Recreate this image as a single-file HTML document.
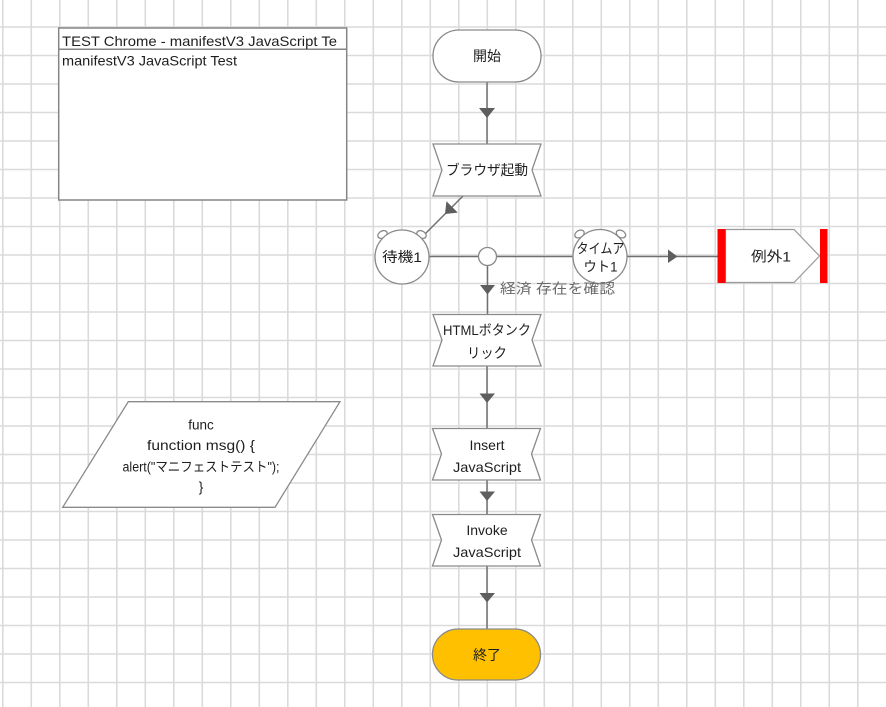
<!DOCTYPE html>
<html><head><meta charset="utf-8"><style>
html,body{margin:0;padding:0;background:#fff;}
svg{display:block;}
text{font-family:"Liberation Sans","Noto Sans CJK JP",sans-serif;font-size:14px;fill:#1e1e1e;}
.c{text-anchor:middle;dominant-baseline:central;}
.n{fill:#fff;stroke:#8a8a8a;stroke-width:1.3;}
.ln{stroke:#707070;stroke-width:1.5;fill:none;}
.ah{fill:#5e5e5e;}
</style></head><body>
<svg width="886" height="707" viewBox="0 0 886 707" xmlns="http://www.w3.org/2000/svg">
<g id="grid" stroke="#dadada" stroke-width="1.6">
</g>
<script>
(function(){var g=document.getElementById('grid');var ns='http://www.w3.org/2000/svg';
for(var k=0;k<=30;k++){var x=2.8+28.5*k;var l=document.createElementNS(ns,'line');l.setAttribute('x1',x);l.setAttribute('x2',x);l.setAttribute('y1',0);l.setAttribute('y2',707);g.appendChild(l);}
for(var k=1;k<=24;k++){var y=-1.5+28.5*k;var l=document.createElementNS(ns,'line');l.setAttribute('y1',y);l.setAttribute('y2',y);l.setAttribute('x1',0);l.setAttribute('x2',886);g.appendChild(l);}
})();
</script>

<!-- title box -->
<rect x="58.7" y="28" width="288" height="172" fill="#fff" stroke="#858585" stroke-width="1.5"/>
<line x1="58.7" y1="49.3" x2="346.7" y2="49.3" stroke="#858585" stroke-width="1.5"/>
<text x="62" y="46" textLength="275" lengthAdjust="spacingAndGlyphs">TEST Chrome - manifestV3 JavaScript Te</text>
<text x="62" y="65.5" textLength="175" lengthAdjust="spacingAndGlyphs">manifestV3 JavaScript Test</text>

<!-- connectors -->
<line class="ln" x1="487" y1="82" x2="487" y2="144"/>
<polygon class="ah" points="479,108 495,108 487,118"/>
<line class="ln" x1="463" y1="196" x2="425" y2="234"/>
<polygon class="ah" points="445,214 457.8,212.6 446.4,201.2"/>
<line class="ln" x1="429" y1="256.5" x2="573" y2="256.5"/>
<line class="ln" x1="627" y1="256.5" x2="718" y2="256.5"/>
<polygon class="ah" points="668,249.5 668,263 677.5,256.5"/>
<line class="ln" x1="487.5" y1="265" x2="487.5" y2="314"/>
<polygon class="ah" points="480,285 495,285 487.5,294.5"/>
<line class="ln" x1="487" y1="366" x2="487" y2="428"/>
<polygon class="ah" points="479.5,393.5 495,393.5 487,403"/>
<line class="ln" x1="487" y1="480" x2="487" y2="514"/>
<polygon class="ah" points="479.5,491.5 495,491.5 487,501"/>
<line class="ln" x1="487" y1="566" x2="487" y2="629"/>
<polygon class="ah" points="479.5,593 495,593 487,602.5"/>

<!-- start -->
<rect class="n" x="433" y="30" width="108" height="52" rx="26"/>
<text class="c" x="487" y="56">開始</text>

<!-- browser -->
<polygon class="n" points="433,144 541,144 532,170 541,196 433,196 442,170"/>
<text class="c" x="487" y="170" textLength="82" lengthAdjust="spacingAndGlyphs">ブラウザ起動</text>

<!-- wait circle -->
<ellipse class="n" cx="382.5" cy="234.5" rx="5" ry="3.5" transform="rotate(-30 382.5 234.5)"/>
<ellipse class="n" cx="421.5" cy="234.5" rx="5" ry="3.5" transform="rotate(30 421.5 234.5)"/>
<circle class="n" cx="402" cy="257" r="27"/>
<text class="c" x="402" y="257" textLength="40" lengthAdjust="spacingAndGlyphs">待機1</text>

<!-- junction -->
<circle class="n" cx="487.5" cy="256.5" r="9"/>

<!-- timeout circle -->
<ellipse class="n" cx="579.5" cy="234" rx="5" ry="3.5" transform="rotate(-30 579.5 234)"/>
<ellipse class="n" cx="621" cy="234" rx="5" ry="3.5" transform="rotate(30 621 234)"/>
<circle class="n" cx="600" cy="256.5" r="27"/>
<text class="c" x="600.5" y="248.5" textLength="48" lengthAdjust="spacingAndGlyphs">タイムア</text>
<text class="c" x="600.5" y="266.5" textLength="34" lengthAdjust="spacingAndGlyphs">ウト1</text>

<!-- exception -->
<polygon fill="#fff" stroke="#9a9a9a" stroke-width="1.2" points="725.5,229.5 794,229.5 819.5,256 794,282.5 725.5,282.5"/>
<rect x="717.5" y="229" width="8" height="54" fill="#ff0000"/>
<rect x="820" y="229" width="7.5" height="54" fill="#ff0000"/>
<text class="c" x="771" y="256.5" textLength="40" lengthAdjust="spacingAndGlyphs">例外1</text>

<!-- label -->
<text x="500" y="288.5" style="fill:#6a6a6a;dominant-baseline:central" textLength="115" lengthAdjust="spacingAndGlyphs">経済 存在を確認</text>

<!-- HTML button -->
<polygon class="n" points="433,314.5 541,314.5 532,340 541,366 433,366 442,340"/>
<text class="c" x="487" y="330" textLength="88" lengthAdjust="spacingAndGlyphs">HTMLボタンク</text>
<text class="c" x="487" y="353" textLength="40" lengthAdjust="spacingAndGlyphs">リック</text>

<!-- Insert -->
<polygon class="n" points="432.5,428.5 540.5,428.5 531.5,454 540.5,480 432.5,480 441.5,454"/>
<text class="c" x="487" y="445">Insert</text>
<text class="c" x="487" y="467" textLength="68" lengthAdjust="spacingAndGlyphs">JavaScript</text>

<!-- Invoke -->
<polygon class="n" points="432.5,514.5 540.5,514.5 531.5,540 540.5,566 432.5,566 441.5,540"/>
<text class="c" x="487" y="530">Invoke</text>
<text class="c" x="487" y="552" textLength="68" lengthAdjust="spacingAndGlyphs">JavaScript</text>

<!-- End -->
<rect x="432.5" y="629" width="108" height="51" rx="25.5" fill="#ffc000" stroke="#8a8a8a" stroke-width="1.3"/>
<text class="c" x="487" y="655">終了</text>

<!-- parallelogram -->
<polygon class="n" points="128.3,401.7 340,401.7 275,507.3 62.7,507.3"/>
<text class="c" x="201" y="425" style="font-size:13.5px">func</text>
<text class="c" x="201" y="445.5" style="font-size:13.5px" textLength="108" lengthAdjust="spacingAndGlyphs">function msg() {</text>
<text class="c" x="201" y="467" style="font-size:13.5px" textLength="157" lengthAdjust="spacingAndGlyphs">alert("マニフェストテスト");</text>
<text class="c" x="201" y="487" style="font-size:13.5px">}</text>
</svg>
</body></html>
